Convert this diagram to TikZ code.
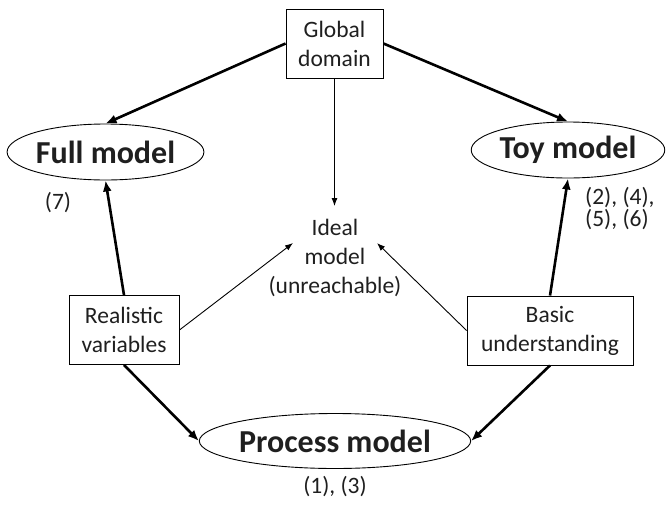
\documentclass[tikz,border=0pt]{standalone}
\usepackage{fontspec}
\setmainfont{Carlito}
\usetikzlibrary{shapes.geometric,arrows.meta}
\begin{document}
\begin{tikzpicture}[x=1pt,y=-1pt,
  txt/.style={font=\fontsize{23.5}{29}\selectfont, text=black!88, align=center},
  boxnode/.style={txt, draw, line width=0.9pt, inner sep=0pt, minimum height=69pt},
  modelnode/.style={ellipse, draw, line width=0.9pt, inner sep=0pt,
    font=\fontsize{32}{36}\selectfont\bfseries, text=black!88},
  strong/.style={line width=2.6pt, -{Latex[length=11pt,width=9pt]}},
  weak/.style={line width=0.9pt, -{Latex[length=8pt,width=6pt]}},
  refs/.style={font=\fontsize{23.5}{22}\selectfont, text=black!88, align=left}]
  \useasboundingbox (0,0) rectangle (667,504);

  % sources
  \node[boxnode, minimum width=97pt]  (glob)  at (334.5,43.5) {Global\\domain};
  \node[boxnode, minimum width=110pt] (real)  at (124,330)    {Realistic\\variables};
  \node[boxnode, minimum width=166pt] (basic) at (550,330.5)  {Basic\\understanding};

  % models
  \node[modelnode, minimum width=183pt, minimum height=56pt] (full) at (105.5,152) {Full model};
  \node[modelnode, minimum width=182pt, minimum height=56pt] (toy)  at (568,150)   {Toy model};
  \node[modelnode, minimum width=246pt, minimum height=55pt] (proc) at (335,441)   {Process model};

  % ideal model and its approach points
  \node[txt, inner sep=0pt] (ideal) at (335,258) {Ideal\\model\\(unreachable)};
  \coordinate (idealtop) at (334.5,206);
  \coordinate (idealL) at (293,243);
  \coordinate (idealR) at (377,243);

  % references
  \node[refs, inner sep=0pt] (r7) at (58,203) {(7)};
  \node[refs, inner sep=0pt, anchor=west] (r2456) at (585,209) {(2), (4),\\(5), (6)};
  \node[refs, inner sep=0pt] (r13) at (335,487) {(1), (3)};

  % connectors
  \draw[strong] (glob.west) -- (full.north);
  \draw[strong] (glob.east) -- (toy.north);
  \draw[weak] (glob.south) -- (idealtop);
  \draw[strong] (real.north) -- (full.south);
  \draw[strong] (basic.north) -- (toy.south);
  \draw[weak] (real.east) -- (idealL);
  \draw[weak] (basic.west) -- (idealR);
  \draw[strong] (real.south) -- (proc.west);
  \draw[strong] (basic.south) -- (proc.east);
\end{tikzpicture}
\end{document}
